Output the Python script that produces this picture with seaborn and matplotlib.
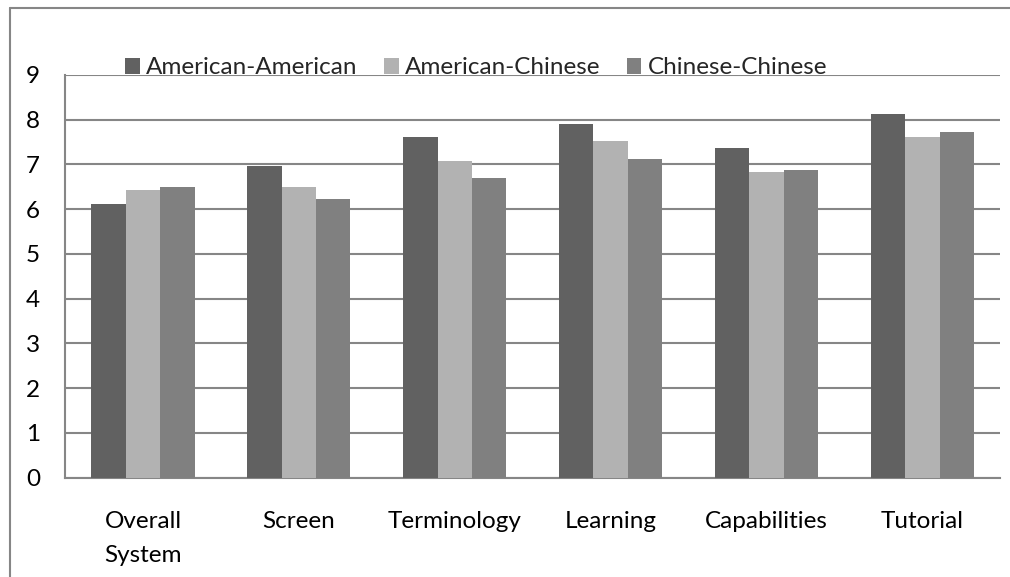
import pandas as pd
import matplotlib.pyplot as plt
import seaborn as sns

categories = ["Overall\nSystem", "Screen", "Terminology", "Learning", "Capabilities", "Tutorial"]
groups = ["American-American", "American-Chinese", "Chinese-Chinese"]
am_am = [6.12, 6.96, 7.62, 7.90, 7.36, 8.13]
am_ch = [6.42, 6.49, 7.08, 7.53, 6.83, 7.61]
ch_ch = [6.49, 6.22, 6.70, 7.11, 6.87, 7.73]
colors = ["#616161", "#b2b2b2", "#808080"]

rows = []
for g, vals in zip(groups, [am_am, am_ch, ch_ch]):
    for c, v in zip(categories, vals):
        rows.append({"cat": c, "group": g, "score": v})
df = pd.DataFrame(rows)

sns.set_style("white")
plt.rcParams['font.family'] = ['Lato', 'DejaVu Sans']

fig = plt.figure(figsize=(10.1, 5.77), dpi=100)
ax = fig.add_axes([0.0644, 0.172, 0.926, 0.6985])

sns.barplot(data=df, x="cat", y="score", hue="group", palette=colors,
            width=0.662, gap=0, linewidth=0, saturation=1, ax=ax, zorder=3)

ax.set_ylim(0, 9)
ax.set_xlim(-0.5, 5.5)
ax.set_yticks(range(10))
ax.yaxis.grid(True, color="#868686", linewidth=1.5, zorder=0)
ax.set_axisbelow(True)
ax.set_xlabel("")
ax.set_ylabel("")
for s in ["top", "right"]:
    ax.spines[s].set_visible(False)
for s in ["left", "bottom"]:
    ax.spines[s].set_color("#868686")
    ax.spines[s].set_linewidth(1.5)
ax.tick_params(axis="both", length=0, labelsize=17.5, labelcolor="black")
ax.tick_params(axis="y", pad=18)
ax.tick_params(axis="x", pad=24)
for lab in ax.get_xticklabels():
    lab.set_linespacing(1.75)
    lab.set_verticalalignment("top")

ax.get_legend().remove()
handles, labels = ax.get_legend_handles_labels()
fig.legend(handles, labels, loc="center", bbox_to_anchor=(476 / 1010, 1 - 68 / 577), ncol=3,
           frameon=False, fontsize=17.5, handlelength=0.6, handleheight=0.6,
           handletextpad=0.25, columnspacing=1.1, borderpad=0)

# outer chart frame (left and top edges visible)
fig.add_artist(plt.Line2D([10 / 1010, 10 / 1010], [0, 1 - 8 / 577], color="#868686", linewidth=1.5))
fig.add_artist(plt.Line2D([10 / 1010, 1], [1 - 8 / 577, 1 - 8 / 577], color="#868686", linewidth=1.5))

fig.savefig("out.png", dpi=100)
